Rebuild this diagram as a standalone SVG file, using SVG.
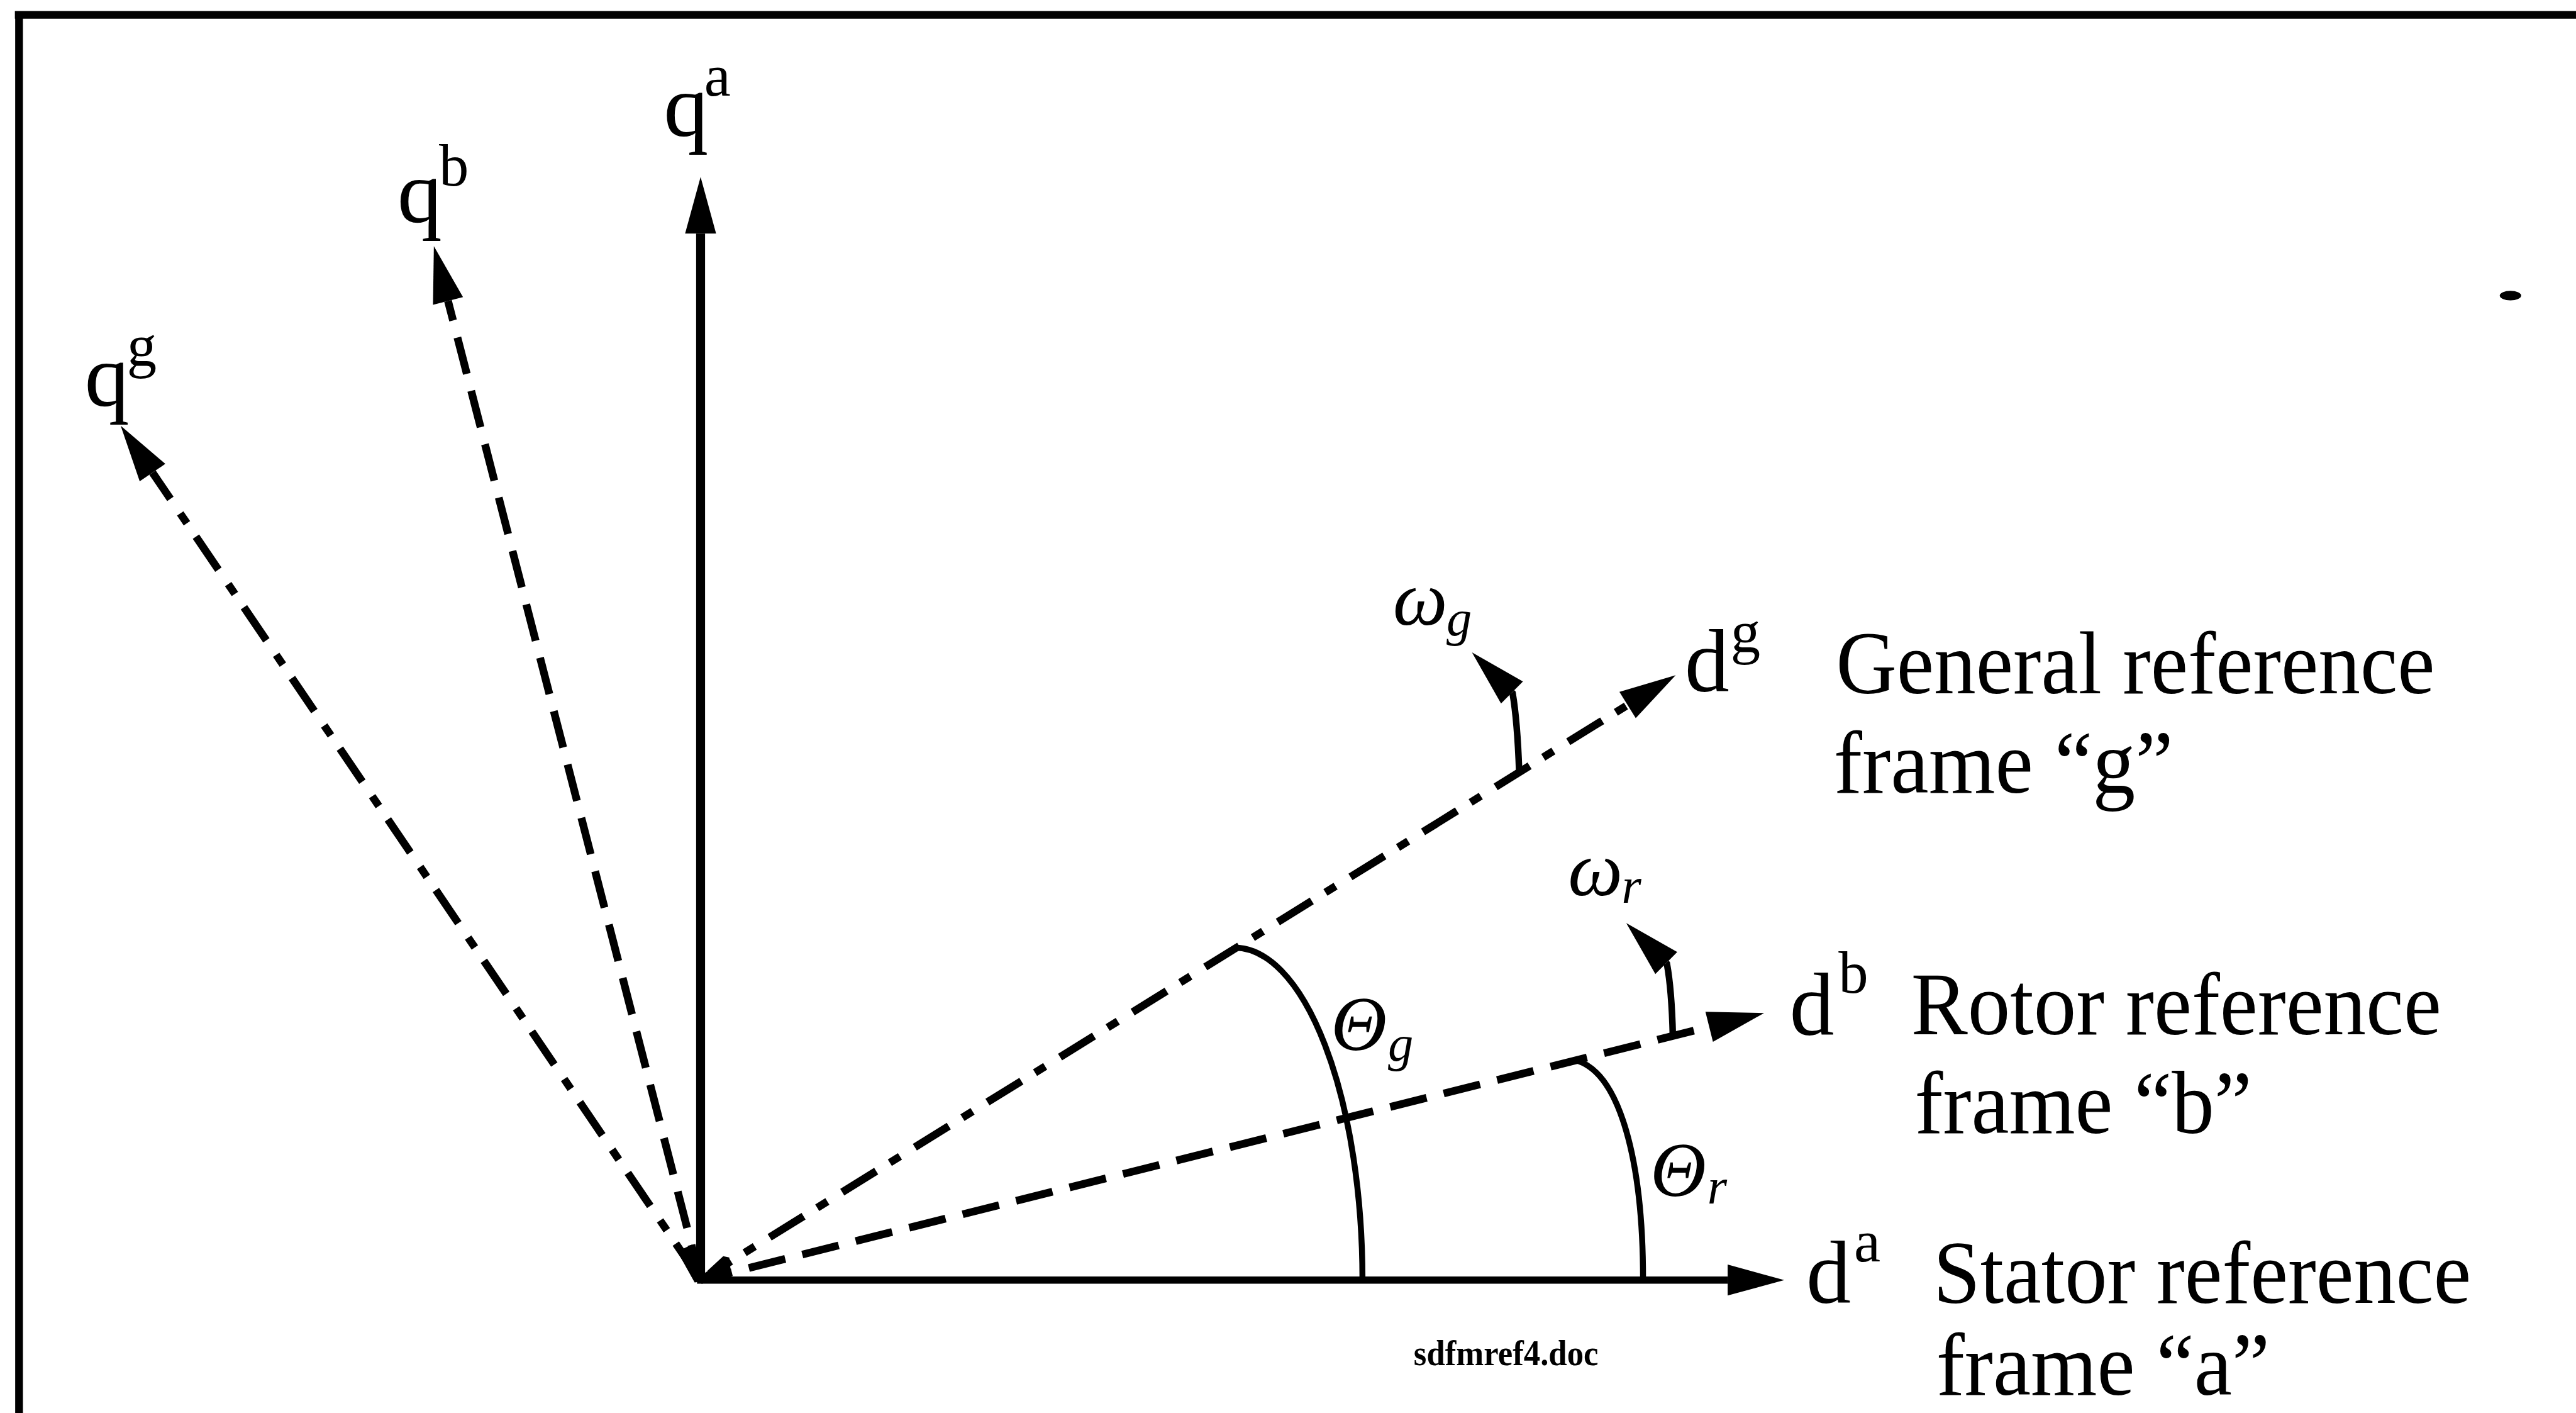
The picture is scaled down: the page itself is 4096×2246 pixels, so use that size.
<svg xmlns="http://www.w3.org/2000/svg" width="4096" height="2246" viewBox="0 0 4096 2246">
<style>
.ln{fill:none;stroke:#000;stroke-linecap:butt}
.ax{stroke-width:13}
.dsh{stroke-dasharray:63 29.5}
.dd{stroke-dasharray:67 27 20 29.4}
.arc{fill:none;stroke:#000;stroke-width:10}
.stem{fill:none;stroke:#000;stroke-width:11}
.t{font-family:"Liberation Serif","Times New Roman",serif;fill:#000}
.lab{font-size:150px}
.sup{font-size:100px}
.gk{font-style:italic}
</style>
<defs>
<marker id="ah" markerUnits="userSpaceOnUse" markerWidth="100" markerHeight="60" viewBox="0 0 100 60" refX="0" refY="30" orient="auto" overflow="visible">
<path d="M0,4 L95,30 L0,56 Z" fill="#000"/>
</marker>
</defs>
<rect x="0" y="0" width="4096" height="2246" fill="#fff"/>
<g transform="scale(0.94727)">
<g id="frame">
<path class="ln" stroke-width="13" d="M25 25 H4324 M32 19 V2371"/>
<ellipse cx="4214" cy="496" rx="18" ry="8" fill="#000"/>
</g>
<g id="connectors">
<path id="axis-qa" class="ln" stroke-width="15" d="M1176 2150 L1176 392" marker-end="url(#ah)"/>
<path id="axis-da" class="ln" stroke-width="12" d="M1170 2148 L2900 2148" marker-end="url(#ah)"/>
<path id="axis-db" class="ln ax dsh" stroke-dashoffset="9" d="M1176 2148 L2869 1723" marker-end="url(#ah)"/>
<path id="axis-qb" class="ln ax dsh" stroke-dashoffset="2" d="M1176 2148 L752 505" marker-end="url(#ah)"/>
<path id="axis-dg" class="ln ax dd" stroke-dashoffset="7" d="M1176 2148 L2732 1183" marker-end="url(#ah)"/>
<path id="axis-qg" class="ln ax dd" stroke-dashoffset="136.4" d="M1176 2148 L256 793" marker-end="url(#ah)"/>
<polygon points="1137,2100 1162,2088 1182,2150 1166,2152" fill="#000"/>
<polygon points="1188,2132 1214,2108 1224,2110 1228,2145 1185,2148" fill="#000"/>
<path id="arc-thg" class="arc" d="M2072 1590 A215 558 0 0 1 2287 2148"/>
<path id="arc-thr" class="arc" d="M2645 1779 C2720 1800 2758 1950 2758 2148"/>
<path id="omega-g-arrow" class="stem" d="M2550 1294 Q2547 1210 2539 1163 l-1 -1" marker-end="url(#ah)"/>
<path id="omega-r-arrow" class="stem" d="M2808 1738 Q2806 1660 2798 1617 l-1 -1" marker-end="url(#ah)"/>
</g>
<g id="label-qa"><text class="t lab" x="1114" y="228">q</text><text class="t sup" x="1182" y="160">a</text></g>
<g id="label-qb"><text class="t lab" x="667" y="373">q</text><text class="t sup" x="737" y="311">b</text></g>
<g id="label-qg"><text class="t lab" x="142" y="681">q</text><text class="t sup" x="213" y="614">g</text></g>
<g id="label-dg"><text class="t lab" x="2828" y="1160">d</text><text class="t sup" x="2905" y="1095">g</text></g>
<g id="label-db"><text class="t lab" x="3004" y="1737">d</text><text class="t sup" x="3086" y="1666">b</text></g>
<g id="label-da"><text class="t lab" x="3032" y="2186">d</text><text class="t sup" x="3112" y="2117">a</text></g>
<g id="frame-g"><text class="t lab" x="3082" y="1163" textLength="1005" lengthAdjust="spacingAndGlyphs">General reference</text><text class="t lab" x="3078" y="1330" textLength="570" lengthAdjust="spacingAndGlyphs">frame “g”</text></g>
<g id="frame-b"><text class="t lab" x="3208" y="1736" textLength="890" lengthAdjust="spacingAndGlyphs">Rotor reference</text><text class="t lab" x="3214" y="1901" textLength="566" lengthAdjust="spacingAndGlyphs">frame “b”</text></g>
<g id="frame-a"><text class="t lab" x="3245" y="2186" textLength="903" lengthAdjust="spacingAndGlyphs">Stator reference</text><text class="t lab" x="3250" y="2340" textLength="560" lengthAdjust="spacingAndGlyphs">frame “a”</text></g>
<g id="label-omega-g"><text class="t gk" font-size="130" x="2338" y="1048">ω</text><text class="t gk" font-size="85" x="2428" y="1066">g</text></g>
<g id="label-omega-r"><text class="t gk" font-size="130" x="2632" y="1502">ω</text><text class="t gk" font-size="85" x="2722" y="1515">r</text></g>
<g id="label-theta-g"><text class="t gk" font-size="130" x="2234" y="1762">Θ</text><text class="t gk" font-size="85" x="2330" y="1780">g</text></g>
<g id="label-theta-r"><text class="t gk" font-size="130" x="2770" y="2007">Θ</text><text class="t gk" font-size="85" x="2866" y="2020">r</text></g>
<g id="filename"><text class="t" font-size="60" font-weight="bold" x="2373" y="2291" textLength="310" lengthAdjust="spacingAndGlyphs">sdfmref4.doc</text></g>
</g>
</svg>
